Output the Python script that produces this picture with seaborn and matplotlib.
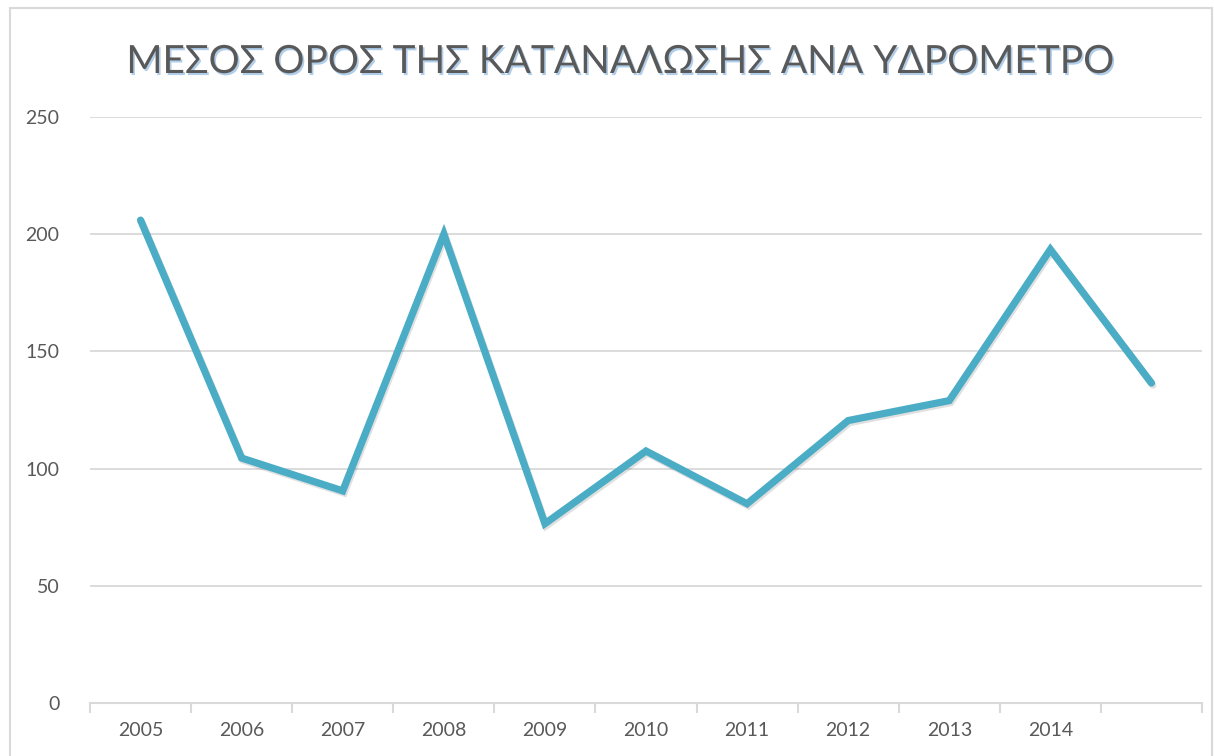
import numpy as np
import pandas as pd
import matplotlib
matplotlib.use('Agg')
import matplotlib.pyplot as plt
import matplotlib.patheffects as pe
import seaborn as sns

# data
years = ['2005', '2006', '2007', '2008', '2009', '2010', '2011', '2012', '2013', '2014', '']
consumption = [206, 104.5, 90.5, 200, 76.5, 107.5, 85, 120.5, 129, 193.5, 136.5]
yticks = [0, 50, 100, 150, 200, 250]
title = 'ΜΕΣΟΣ ΟΡΟΣ ΤΗΣ ΚΑΤΑΝΑΛΩΣΗΣ ΑΝΑ ΥΔΡΟΜΕΤΡΟ'

LINE = '#4BACC6'
GRID = '#D9D9D9'
TXT = '#595959'

sns.set_style('white')
plt.rcParams['font.family'] = ['Lato', 'DejaVu Sans']

df = pd.DataFrame({'pos': np.arange(len(years)), 'value': consumption})

fig = plt.figure(figsize=(12.14, 7.56), dpi=100)
ax = fig.add_axes([90/1214, 1-703/756, (1202-90)/1214, (703-117)/756])

sns.lineplot(data=df, x='pos', y='value', ax=ax, color=LINE, linewidth=5.2,
             solid_capstyle='round', solid_joinstyle='miter',
             path_effects=[pe.SimpleLineShadow(offset=(1, -1.5), alpha=0.12, shadow_color='k'),
                           pe.Normal()])

ax.set_xlim(-0.5, len(years) - 0.5)
ax.set_ylim(0, 250)
ax.set_yticks(yticks)
ax.set_yticklabels([str(v) for v in yticks], fontsize=14, color=TXT)
ax.set_xticks(df['pos'])
ax.set_xticklabels(years, fontsize=14, color=TXT)
ax.set_xticks(np.arange(len(years) + 1) - 0.5, minor=True)
ax.tick_params(axis='x', which='major', bottom=True, length=0, pad=14)
ax.tick_params(axis='x', which='minor', bottom=True, length=7, width=1.5, color=GRID)
ax.tick_params(axis='y', length=0, pad=22)
ax.set_xlabel('')
ax.set_ylabel('')

ax.grid(axis='y', color=GRID, linewidth=1.3)
ax.set_axisbelow(True)
for s in ['top', 'right', 'left']:
    ax.spines[s].set_visible(False)
ax.spines['bottom'].set_color(GRID)
ax.spines['bottom'].set_linewidth(1.5)

fig.text(620/1214, 1-62/756, title, ha='center', va='center', fontsize=28,
         color=TXT,
         path_effects=[pe.withSimplePatchShadow(offset=(1.2, -1.5), shadow_rgbFace='#8FB8E0',
                                                alpha=0.7)])

# chart border
fig.patches.append(plt.Rectangle((10/1214, -0.01), 1202/1214, 1-8/756 + 0.01,
                                 transform=fig.transFigure, fill=False,
                                 edgecolor='#D9D9D9', linewidth=1.5))

fig.savefig('out.png', dpi=100)
